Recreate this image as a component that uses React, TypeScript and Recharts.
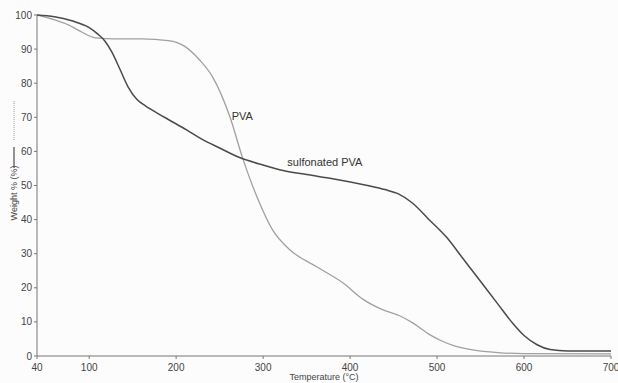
import React from "react";
import { LineChart, Line, XAxis, YAxis, ReferenceDot, Label } from "recharts";

const sulfTemps = [40, 60, 80, 100, 110, 118, 126, 135, 145, 155, 165, 172, 190, 212, 230, 250, 273, 300, 323, 350, 380, 420, 440, 455, 472, 490, 511, 530, 549, 570, 587, 600, 615, 630, 650, 700];
const sulfWeights = [100, 99.5, 98.3, 96.3, 94.4, 92.4, 89.2, 84.3, 78.8, 75.2, 73.3, 72.2, 69.5, 66.3, 63.5, 61, 58.2, 56, 54.4, 53.2, 52, 50, 48.8, 47.6, 44.8, 40.2, 34.8, 28.5, 22.2, 15.2, 9.6, 6, 3.3, 1.9, 1.5, 1.5];

const pvaTemps = [40, 60, 76, 90, 107, 130, 160, 191, 210, 227, 242, 262, 276, 293, 311, 331, 362, 392, 415, 438, 457, 472, 490, 503, 520, 541, 570, 600, 700];
const pvaWeights = [100, 98.6, 97.1, 95.2, 93.3, 93, 93, 92.5, 90.8, 86.8, 81.8, 70, 58.4, 46.6, 36.9, 31.1, 26.1, 21.4, 16.6, 13.5, 11.8, 9.7, 6.5, 4.7, 3, 1.8, 1, 0.7, 0.6];

const xTicks = [40, 100, 200, 300, 400, 500, 600, 700];
const yTicks = [0, 10, 20, 30, 40, 50, 60, 70, 80, 90, 100];

const seriesLabels = ["PVA", "sulfonated PVA"];
const labelTemps = [276, 371];
const labelWeights = [70.4, 56.9];

const sulfData = sulfTemps.map((t, i) => ({ t, w: sulfWeights[i] }));
const pvaData = pvaTemps.map((t, i) => ({ t, w: pvaWeights[i] }));

const FONT = "'Liberation Sans', Arial, sans-serif";
const AXIS = "#777";
const TEXT = "#444";
const SULF = "#4a4a4a";
const PVA = "#a0a0a0";

const YLabel = (props: any) => {
  const vb = props.viewBox || {};
  const cx = 14;
  const cy = vb.y + vb.height * 0.522;
  return (
    <g>
      <text
        x={cx}
        y={cy}
        transform={`rotate(-90 ${cx} ${cy})`}
        textAnchor="middle"
        dominantBaseline="central"
        fontSize={9}
        fill={TEXT}
        fontFamily={FONT}
      >
        Weight % (%)
      </text>
      <line x1={cx} x2={cx} y1={cy - 25} y2={cy - 46} stroke={SULF} strokeWidth={1.2} />
      <line x1={cx} x2={cx} y1={cy - 53} y2={cy - 93} stroke={PVA} strokeWidth={1} strokeDasharray="1 1" />
    </g>
  );
};

export default function App() {
  return (
    <div style={{ position: "absolute", left: 0, top: 0, width: 618, height: 383, background: "#fcfcfc" }}>
      <LineChart width={618} height={383} margin={{ top: 15, right: 7, bottom: 0, left: 0 }}>
        <XAxis
          dataKey="t"
          type="number"
          domain={[40, 700]}
          ticks={xTicks}
          allowDataOverflow
          height={27}
          tickSize={3}
          tickMargin={5}
          stroke={AXIS}
          tick={{ fontSize: 10, fill: TEXT, fontFamily: FONT }}
          tickLine={{ stroke: AXIS }}
          interval={0}
        >
          <Label value="Temperature (°C)" position="insideBottom" offset={3} style={{ fontSize: 9, fill: TEXT, fontFamily: FONT }} />
        </XAxis>
        <YAxis
          dataKey="w"
          type="number"
          domain={[0, 100]}
          ticks={yTicks}
          width={37}
          tickSize={3}
          stroke={AXIS}
          tick={{ fontSize: 10, fill: TEXT, fontFamily: FONT }}
          interval={0}
        >
          <Label content={<YLabel />} position="left" />
        </YAxis>
        <Line
          data={pvaData}
          dataKey="w"
          type="monotone"
          stroke={PVA}
          strokeWidth={1.3}
          dot={false}
          isAnimationActive={false}
        />
        <Line
          data={sulfData}
          dataKey="w"
          type="monotone"
          stroke={SULF}
          strokeWidth={1.5}
          dot={false}
          isAnimationActive={false}
        />
        {seriesLabels.map((s, i) => (
          <ReferenceDot
            key={s}
            x={labelTemps[i]}
            y={labelWeights[i]}
            r={0}
            ifOverflow="visible"
            label={{ value: s, position: "center", fontSize: 11, fill: "#333", fontFamily: FONT }}
          />
        ))}
      </LineChart>
    </div>
  );
}
